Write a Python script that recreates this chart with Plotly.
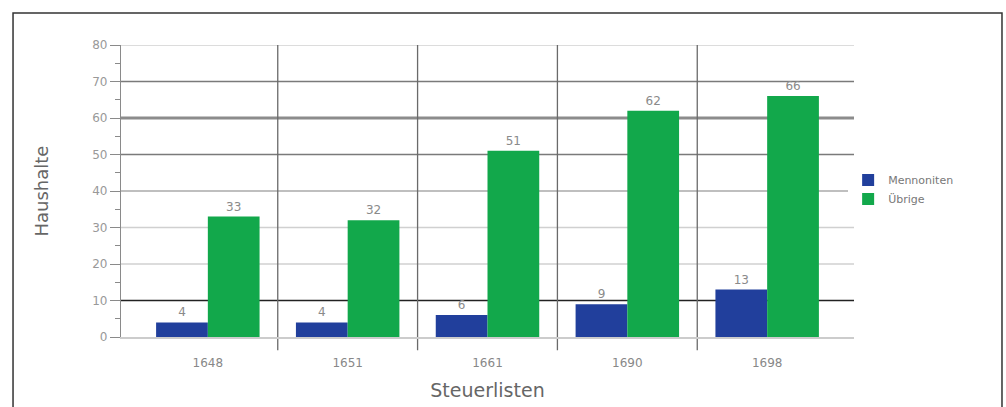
import plotly.graph_objects as go

categories = ["1648", "1651", "1661", "1690", "1698"]
mennoniten = [4, 4, 6, 9, 13]
uebrige = [33, 32, 51, 62, 66]
y_ticks = [0, 10, 20, 30, 40, 50, 60, 70, 80]

FONT = "DejaVu Sans"
fig = go.Figure()
fig.add_trace(go.Bar(name="Mennoniten", x=categories, y=mennoniten,
                     marker=dict(color="#213f9c", line=dict(width=0)),
                     text=mennoniten, textposition="outside",
                     textfont=dict(color="#8a8a8a", size=12, family=FONT), cliponaxis=False))
fig.add_trace(go.Bar(name="Übrige", x=categories, y=uebrige,
                     marker=dict(color="#12a84b", line=dict(width=0)),
                     text=uebrige, textposition="outside",
                     textfont=dict(color="#8a8a8a", size=12, family=FONT), cliponaxis=False))

shapes = []
# horizontal gridlines (some emphasised)
styles = {80: ("#d0d0d0", 1.5), 70: ("#7a7a7a", 1.3), 60: ("#8c8c8c", 3),
          50: ("#7a7a7a", 1.3), 40: ("#808080", 1.2), 30: ("#d0d0d0", 1.5),
          20: ("#d0d0d0", 1.5), 10: ("#222222", 1.3)}
for v, (c, w) in styles.items():
    shapes.append(dict(type="line", xref="paper", yref="y", x0=0, x1=1, y0=v, y1=v,
                       line=dict(color=c, width=w), layer="below"))
# vertical category separators
for i in range(len(categories) - 1):
    shapes.append(dict(type="line", xref="x", yref="paper", x0=i + 0.5, x1=i + 0.5,
                       y0=-0.045, y1=1, line=dict(color="#6a6a6a", width=1.3), layer="below"))
# outer frame
shapes.append(dict(type="rect", xref="paper", yref="paper", x0=-0.1473, x1=1.2019,
                   y0=-0.4, y1=1.1096, line=dict(color="#333333", width=1.5)))

fig.update_layout(
    width=1006, height=407,
    margin=dict(l=121, r=152, t=45, b=70),
    paper_bgcolor="white", plot_bgcolor="white",
    barmode="group", bargap=0.26, bargroupgap=0,
    font=dict(family=FONT, color="#777777"),
    shapes=shapes,
    showlegend=True,
    legend=dict(x=0.992, y=0.505, xanchor="left", yanchor="middle",
                font=dict(size=11, color="#777777", family=FONT),
                itemwidth=30, tracegroupgap=0),
    xaxis=dict(range=[-0.621, 4.621], showgrid=False, showline=True, automargin=False,
               linecolor="#cccccc", linewidth=2, ticks="", zeroline=False,
               ticklabelstandoff=14,
               tickfont=dict(size=12, color="#888888", family=FONT),
               title=dict(text="Steuerlisten", font=dict(size=19, color="#666666", family=FONT),
                          standoff=14)),
    yaxis=dict(range=[0, 80], tickvals=y_ticks, ticktext=[str(v) for v in y_ticks],
               showgrid=False, automargin=False,
               showline=True, linecolor="#8a8a8a", linewidth=1.3,
               ticks="outside", ticklen=10, tickcolor="#8a8a8a",
               minor=dict(dtick=5, ticks="outside", ticklen=5, tickcolor="#8a8a8a", showgrid=False),
               zeroline=False,
               tickfont=dict(size=12, color="#999999", family=FONT),
               title=dict(text="Haushalte", font=dict(size=18, color="#666666", family=FONT),
                          standoff=38)),
)
fig.write_html("out.html")
